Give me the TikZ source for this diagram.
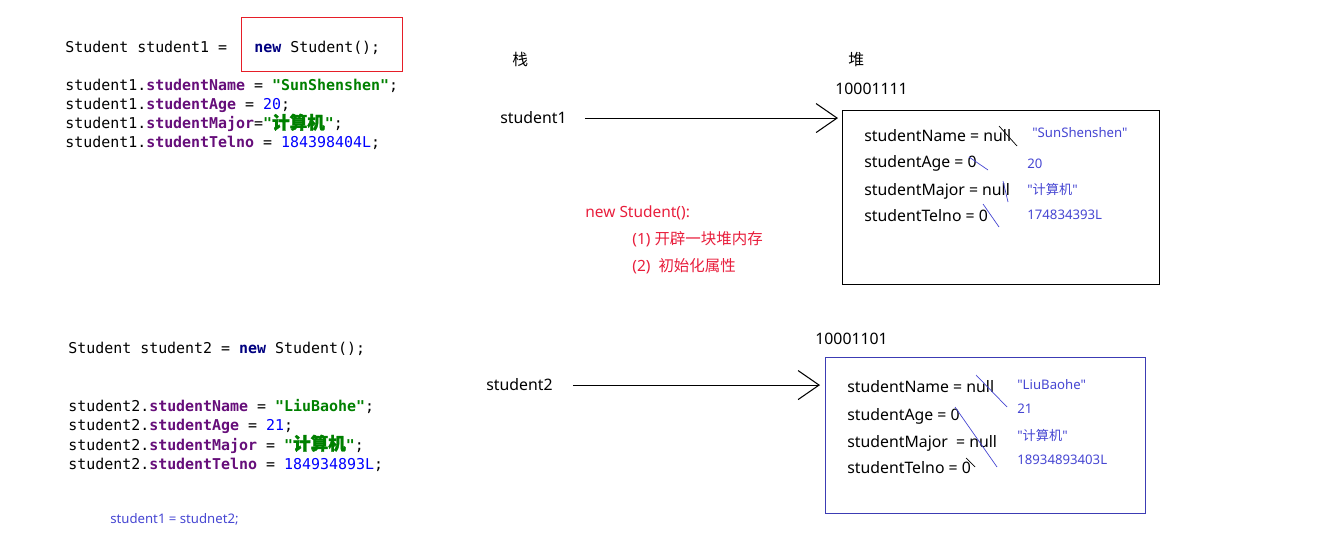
\documentclass[tikz,border=0pt]{standalone}
\usepackage{fontspec}
\setmonofont{DejaVu Sans Mono}
\newfontfamily\uisans{Noto Sans}
\newfontfamily\cjk{Noto Sans CJK SC}
\newfontfamily\cjkcode[FakeBold=1.5]{Noto Sans CJK SC}
\usetikzlibrary{arrows.meta, positioning, calc}

\definecolor{fieldcol}{RGB}{102,14,122}
\definecolor{kwcol}{RGB}{0,0,128}
\definecolor{strcol}{RGB}{0,128,0}
\definecolor{numcol}{RGB}{0,0,255}
\definecolor{notecol}{RGB}{232,30,60}
\definecolor{valcol}{RGB}{70,70,210}
\definecolor{framecol}{RGB}{60,60,180}
\definecolor{boxred}{RGB}{230,30,40}

\newcommand{\fld}[1]{\textcolor{fieldcol}{\textbf{#1}}}
\newcommand{\kwd}[1]{\textcolor{kwcol}{\textbf{#1}}}
\newcommand{\strlit}[1]{\textcolor{strcol}{\textbf{#1}}}
\newcommand{\numlit}[1]{\textcolor{numcol}{#1}}
\newcommand{\zh}[1]{{\cjkcode\fontsize{10pt}{12pt}\selectfont #1}}

\begin{document}
\begin{tikzpicture}[x=0.02cm, y=-0.02cm,
    code/.style={anchor=base west, inner sep=0, font=\ttfamily\fontsize{8.5pt}{10pt}\selectfont},
    txt/.style={anchor=base west, inner sep=0, font=\uisans\fontsize{9pt}{11pt}\selectfont},
    val/.style={anchor=base west, inner sep=0, text=valcol, font=\uisans\fontsize{7.5pt}{9pt}\selectfont},
    note/.style={anchor=base west, inner sep=0, text=notecol, font=\uisans\fontsize{8.8pt}{11pt}\selectfont},
    heapbox/.style={draw, anchor=north west, inner sep=0, line width=0.6pt},
    ptr/.style={-{Straight Barb[length=4.2mm, width=5.8mm]}, line width=0.6pt},
    cross/.style={line width=0.4pt}]
    \useasboundingbox (0,0) rectangle (1317,543);

    % code for student1
    \node[code] (c1) at (65,53) {Student student1 =};
    \node[draw=boxred, line width=0.7pt, anchor=north west, minimum width=3.22cm, minimum height=1.08cm] (newbox) at (241,17) {};
    \node[code] (c1new) at (254,53) {\kwd{new} Student();};
    \node[code] (c1a) at (65,91) {student1.\fld{studentName} = \strlit{"SunShenshen"};};
    \node[code] (c1b) at (65,110) {student1.\fld{studentAge} = \numlit{20};};
    \node[code] (c1c) at (65,129) {student1.\fld{studentMajor}=\strlit{"\zh{计算机}"};};
    \node[code] (c1d) at (65,148) {student1.\fld{studentTelno} = \numlit{184398404L};};

    % code for student2
    \node[code] (c2) at (68,354) {Student student2 = \kwd{new} Student();};
    \node[code] (c2a) at (68,411) {student2.\fld{studentName} = \strlit{"LiuBaohe"};};
    \node[code] (c2b) at (68,430) {student2.\fld{studentAge} = \numlit{21};};
    \node[code] (c2c) at (68,450) {student2.\fld{studentMajor} = \strlit{"\zh{计算机}"};};
    \node[code] (c2d) at (68,469) {student2.\fld{studentTelno} = \numlit{184934893L};};
    \node[val] (assign) at (110,523) {student1 = studnet2;};

    % stack and heap
    \node[txt] (stack) at (512,66) {\cjk 栈};
    \node[txt] (heap) at (848,66) {\cjk 堆};
    \node[txt] (s1) at (500,124) {student1};
    \node[txt] (s2) at (486,391) {student2};

    \node[txt] (addr1) at (835,95) {10001111};
    \node[heapbox, minimum width=6.34cm, minimum height=3.48cm] (heap1) at (842,110) {};
    \node[txt] (h1a) at (864,142) {studentName = null};
    \node[txt] (h1b) at (864,168) {studentAge = 0};
    \node[txt] (h1c) at (864,196) {studentMajor = null};
    \node[txt] (h1d) at (864,222) {studentTelno = 0};
    \node[val] (v1a) at (1032,138) {"SunShenshen"};
    \node[val] (v1b) at (1027,169) {20};
    \node[val] (v1c) at (1027,195) {"{\cjk 计算机}"};
    \node[val] (v1d) at (1027,220) {174834393L};

    \node[txt] (addr2) at (815,345) {10001101};
    \node[heapbox, draw=framecol, minimum width=6.4cm, minimum height=3.12cm] (heap2) at (825,357) {};
    \node[txt] (h2a) at (847,393) {studentName = null};
    \node[txt] (h2b) at (847,420) {studentAge = 0};
    \node[txt] (h2c) at (847,447) {studentMajor\ \ = null};
    \node[txt] (h2d) at (847,473) {studentTelno = 0};
    \node[val] (v2a) at (1017,390) {"LiuBaohe"};
    \node[val] (v2b) at (1017,414) {21};
    \node[val] (v2c) at (1017,440) {"{\cjk 计算机}"};
    \node[val] (v2d) at (1017,464) {18934893403L};

    % new Student() note
    \node[note] (n0) at (585,218) {new Student():};
    \node[note] (n1) at (632,245) {(1) {\cjk 开辟一块堆内存}};
    \node[note] (n2) at (632,272) {(2)\ \ {\cjk 初始化属性}};

    % references
    \draw[ptr, shorten <=0.36cm, shorten >=0.08cm] (s1.east) -- (s1.east -| heap1.west);
    \draw[ptr, shorten <=0.4cm, shorten >=0.1cm] (s2.east) -- (s2.east -| heap2.west);

    % old values struck out
    \draw[cross] (999,126) -- (1017,146);
    \draw[cross, valcol] (969,157) -- (988,170);
    \draw[cross, valcol] (1003,181) -- (1008,202);
    \draw[cross, valcol] (983,204) -- (999,227);
    \draw[cross, valcol] (976,375) -- (1007,407);
    \draw[cross, valcol] (955,407) -- (997,467);
    \draw[cross] (966,458) -- (975,467);
\end{tikzpicture}
\end{document}
